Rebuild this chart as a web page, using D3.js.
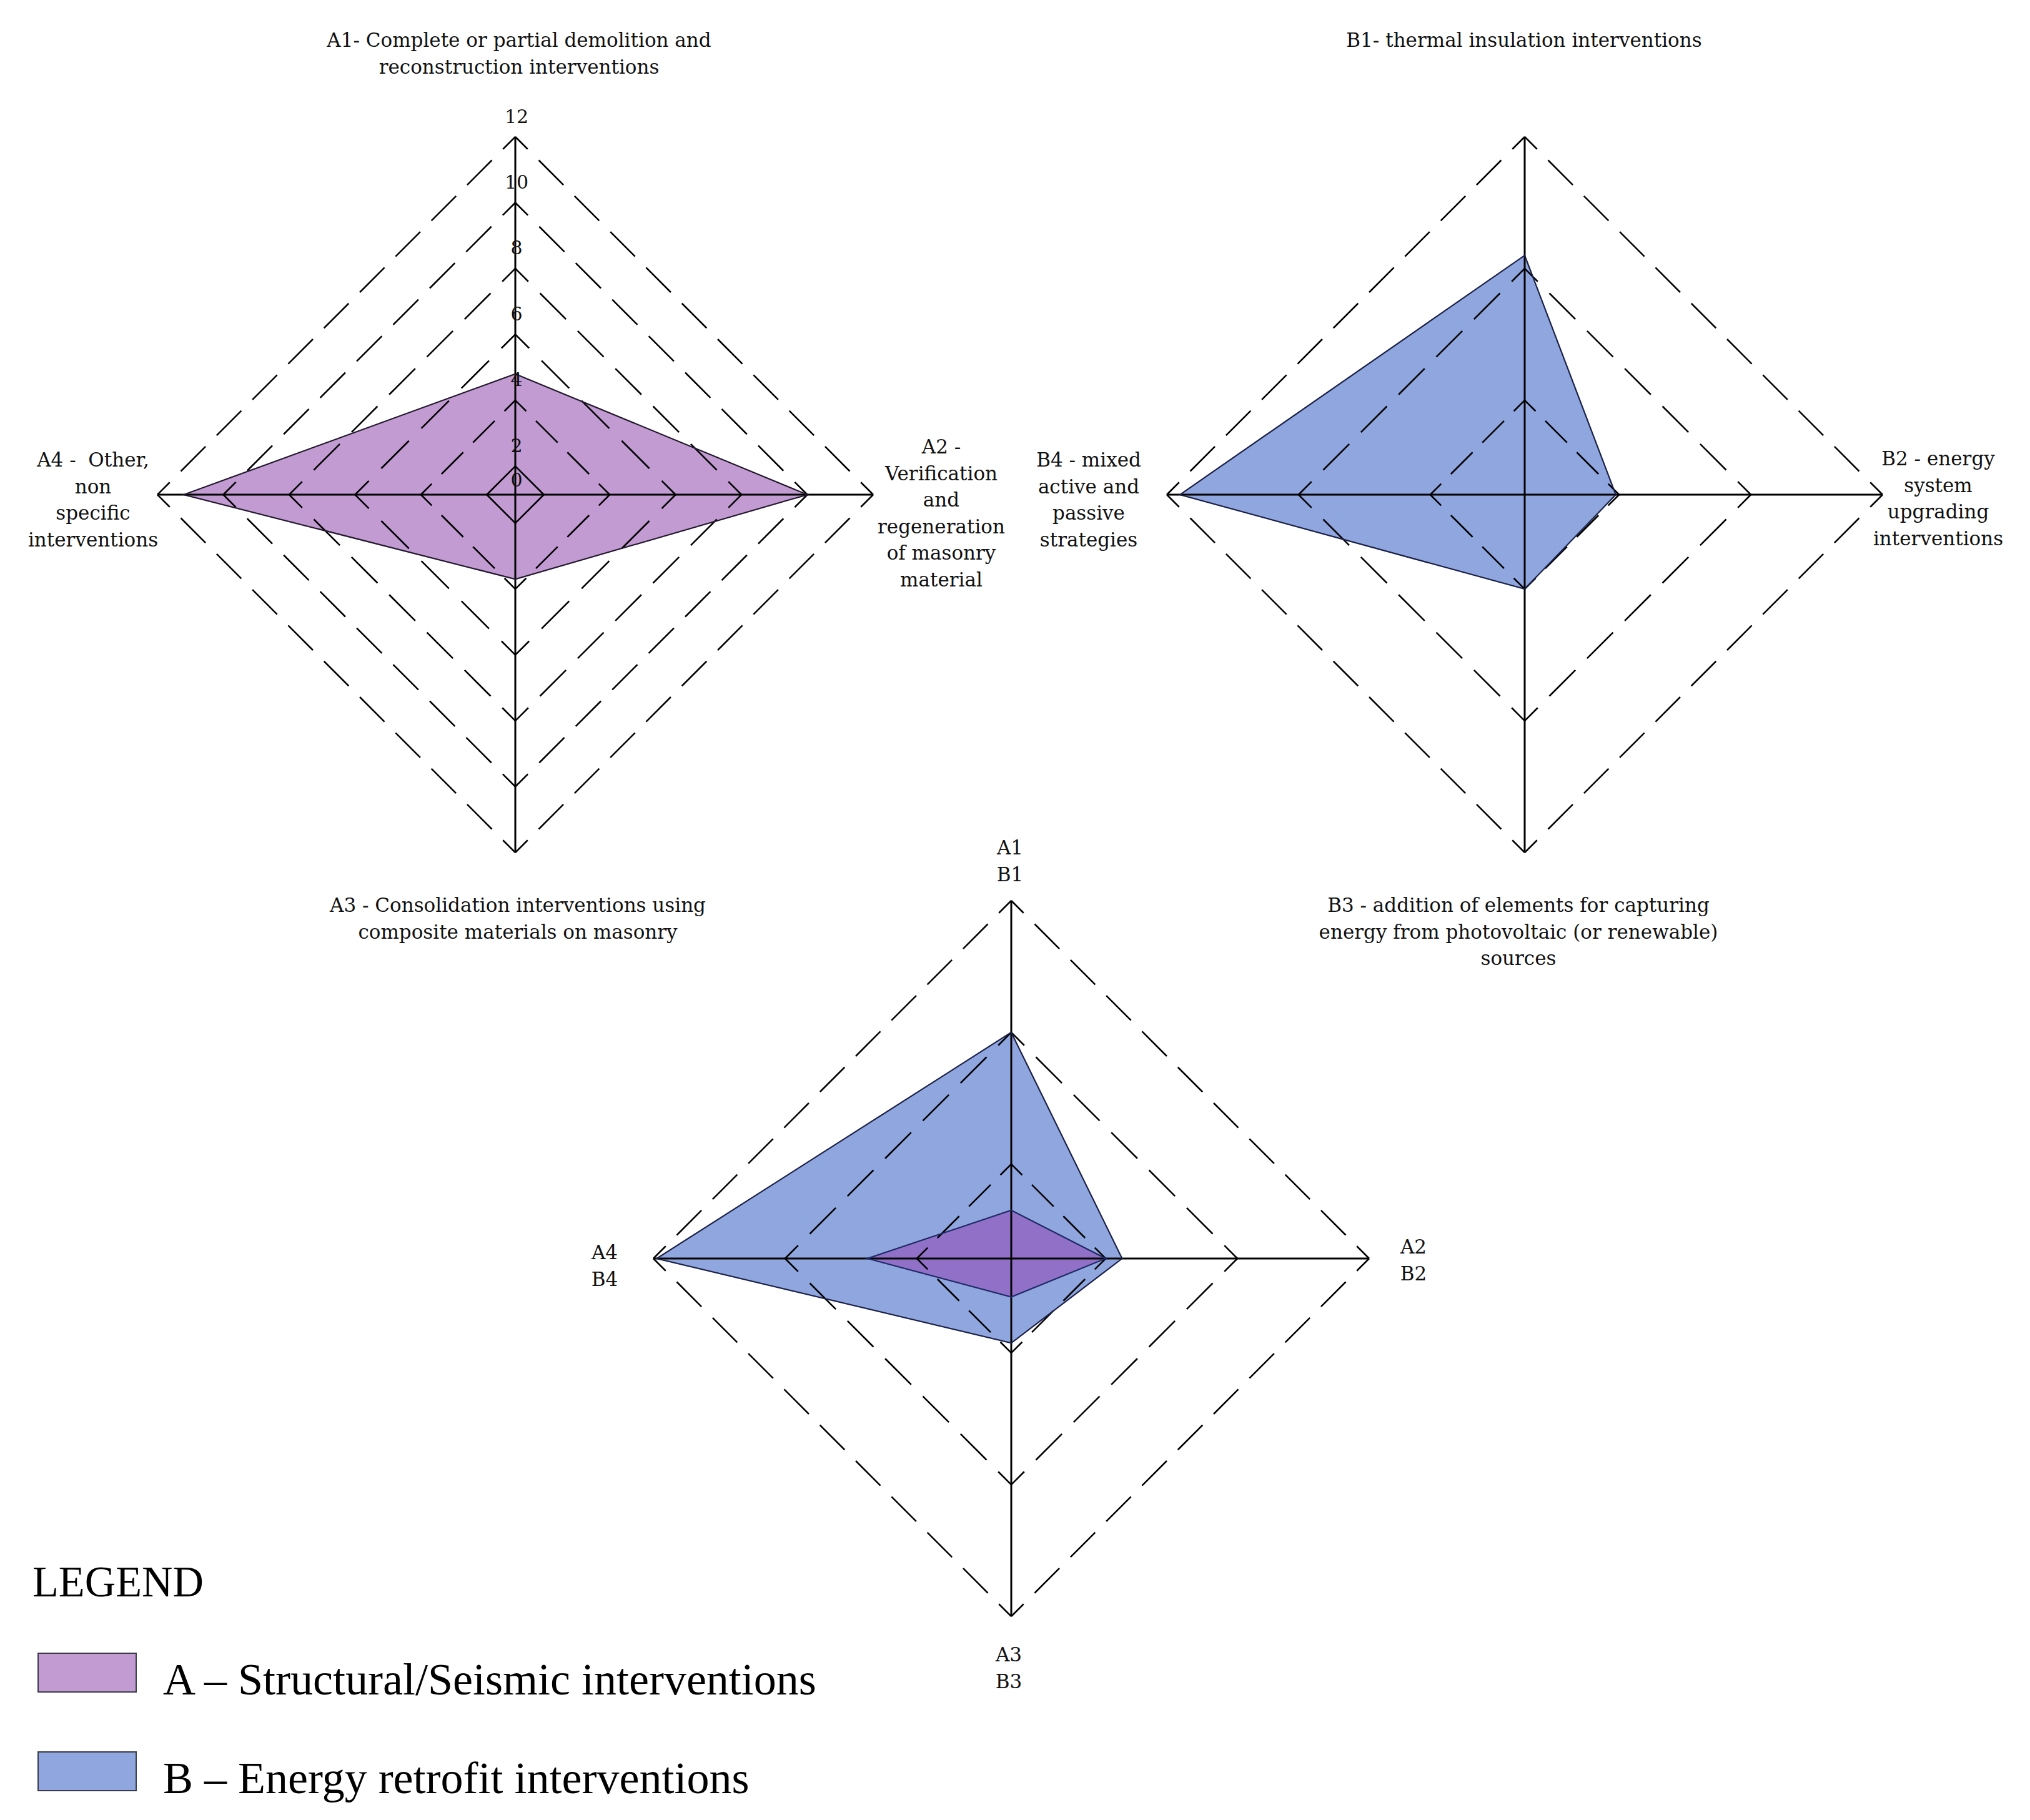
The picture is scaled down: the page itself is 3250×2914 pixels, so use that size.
<!DOCTYPE html>
<html>
<head>
<meta charset="utf-8">
<script src="https://cdn.jsdelivr.net/npm/d3@7"></script>
<style>
  html, body { margin: 0; padding: 0; background: #ffffff; }
  svg { display: block; }
</style>
</head>
<body>
<svg id="chart" width="3250" height="2914"></svg>
<script>
// ---------------- DATA ----------------
// axis order: top, right, bottom, left
const structuralCategories = ["A1", "A2", "A3", "A4"];
const energyCategories = ["B1", "B2", "B3", "B4"];
const structuralValues = [4.8, 10, 3.7, 11.2];
const energyValues = [8.4, 3.9, 4.0, 11.6];
const combinedStructuralValues = [2.6, 4.0, 2.3, 5.5];
const combinedEnergyValues = [8.0, 4.5, 3.7, 11.9];
const tickLabels = [0, 2, 4, 6, 8, 10, 12];
const ringsStructural = [2, 4, 6, 8, 10, 12];
const ringsEnergy = [4, 8, 12];
const ringsCombined = [4, 8, 12];

const structuralLabels = [
  ["A1- Complete or partial demolition and", "reconstruction interventions"],
  ["A2 -", "Verification", "and", "regeneration", "of masonry", "material"],
  ["A3 - Consolidation interventions using", "composite materials on masonry"],
  ["A4 -\u00a0 Other,", "non", "specific", "interventions"]
];
const energyLabels = [
  ["B1- thermal insulation interventions"],
  ["B2 - energy", "system", "upgrading", "interventions"],
  ["B3 - addition of elements for capturing", "energy from photovoltaic (or renewable)", "sources"],
  ["B4 - mixed", "active and", "passive", "strategies"]
];
const combinedLabels = [
  ["A1", "B1"], ["A2", "B2"], ["A3", "B3"], ["A4", "B4"]
];
const legendTitle = "LEGEND";
const legendItems = ["A \u2013 Structural/Seismic interventions", "B \u2013 Energy retrofit interventions"];

// ---------------- STYLE / LAYOUT ----------------
const COLOR_A = "#c39bd3";
const COLOR_B = "#8fa6df";
const COLOR_AB = "#9171c8";
const R = 573;
const FONT = "'DejaVu Serif', 'Liberation Serif', serif";
const LABEL_SIZE = 31;
const LINE_H = 42.5;

const svg = d3.select("#chart");
svg.append("rect").attr("width", 3250).attr("height", 2914).attr("fill", "#fff");

// radial scale (inner ring sits close to the centre, as in the original)
const rScale = d3.scaleLinear().domain([0, 2, 12]).range([0, R * 0.0797, R]);
const angle = d3.scalePoint().domain([0, 1, 2, 3]).range([0, 270]);

function pt(i, v) {
  const a = angle(i) * Math.PI / 180;
  const r = rScale(v);
  return [r * Math.sin(a), -r * Math.cos(a)];
}

function drawRadar(cx, cy, rings, series, labels, labelPos, showTicks) {
  const g = svg.append("g").attr("transform", `translate(${cx},${cy})`);
  const line = d3.line().curve(d3.curveLinearClosed);

  // filled polygons
  series.forEach(s => {
    g.append("path")
      .attr("d", line(s.values.map((v, i) => pt(i, v))))
      .attr("fill", s.fill)
      .attr("stroke", "none");
  });

  // dashed diamond rings, dashes centred at vertices
  rings.forEach(rv => {
    for (let i = 0; i < 4; i++) {
      const p1 = pt(i, rv), p2 = pt((i + 1) % 4, rv);
      const L = Math.hypot(p2[0] - p1[0], p2[1] - p1[1]);
      const n = Math.round(L / 81);
      const seg = g.append("line")
        .attr("x1", p1[0]).attr("y1", p1[1])
        .attr("x2", p2[0]).attr("y2", p2[1])
        .attr("stroke", "#000").attr("stroke-width", 2.6);
      if (n >= 2) {
        const period = L / n;
        const dash = period * 0.69;
        seg.attr("stroke-dasharray", `${dash},${period - dash}`)
           .attr("stroke-dashoffset", dash / 2);
      }
    }
  });

  // axes
  for (let i = 0; i < 4; i++) {
    const p = pt(i, 12);
    g.append("line").attr("x1", 0).attr("y1", 0).attr("x2", p[0]).attr("y2", p[1])
      .attr("stroke", "#000").attr("stroke-width", 3);
  }
  // polygon outlines
  series.forEach(s => {
    g.append("path")
      .attr("d", line(s.values.map((v, i) => pt(i, v))))
      .attr("fill", "none")
      .attr("stroke", s.stroke)
      .attr("stroke-width", 2.2)
      .attr("stroke-linejoin", "miter");
  });

  // tick labels
  if (showTicks) {
    g.selectAll("text.tick").data(tickLabels).join("text")
      .attr("class", "tick")
      .attr("x", 2)
      .attr("y", d => -rScale(d) - (d === 0 ? 24 : 33))
      .attr("text-anchor", "middle")
      .attr("dominant-baseline", "central")
      .attr("font-family", FONT)
      .attr("font-size", 30)
      .attr("fill", "#111")
      .text(d => d);
  }

  // category labels
  labels.forEach((lines, i) => {
    const [lx, ly] = labelPos[i];
    const t = g.append("text")
      .attr("text-anchor", "middle")
      .attr("font-family", FONT)
      .attr("font-size", LABEL_SIZE)
      .attr("fill", "#111");
    lines.forEach((ln, k) => {
      t.append("tspan").attr("x", lx).attr("y", ly + k * LINE_H)
        .attr("dominant-baseline", "central").text(ln);
    });
  });
}

drawRadar(825, 792, ringsStructural,
  [{ values: structuralValues, fill: COLOR_A, stroke: "#231a2e" }],
  structuralLabels,
  [[6, -728], [682, -77], [4, 657], [-676, -56]], true);

drawRadar(2441, 792, ringsEnergy,
  [{ values: energyValues, fill: COLOR_B, stroke: "#1b2147" }],
  energyLabels,
  [[-1, -728], [662, -58], [-10, 657], [-698, -56]], false);

drawRadar(1619, 2015, ringsCombined,
  [{ values: combinedEnergyValues, fill: COLOR_B, stroke: "#1b2147" },
   { values: combinedStructuralValues, fill: COLOR_AB, stroke: "#1f2a66" }],
  combinedLabels,
  [[-2, -658], [644, -19], [-4, 634], [-651, -10]], false);

// ---------------- LEGEND ----------------
const lg = svg.append("g");
lg.append("text").attr("x", 52).attr("y", 2556)
  .attr("font-family", "'Liberation Serif', serif").attr("font-size", 70)
  .attr("textLength", 274).attr("lengthAdjust", "spacingAndGlyphs")
  .attr("fill", "#000").text(legendTitle);
const swatchColors = [COLOR_A, COLOR_B];
legendItems.forEach((txt, i) => {
  const y0 = 2647 + i * 158;
  lg.append("rect").attr("x", 61).attr("y", y0).attr("width", 157).attr("height", 62)
    .attr("fill", swatchColors[i]).attr("stroke", "#3a3a4a").attr("stroke-width", 2);
  lg.append("text").attr("x", 261).attr("y", 2713 + i * 158)
    .attr("font-family", "'Liberation Serif', serif").attr("font-size", 72)
    .attr("fill", "#000").text(txt);
});
</script>
</body>
</html>
